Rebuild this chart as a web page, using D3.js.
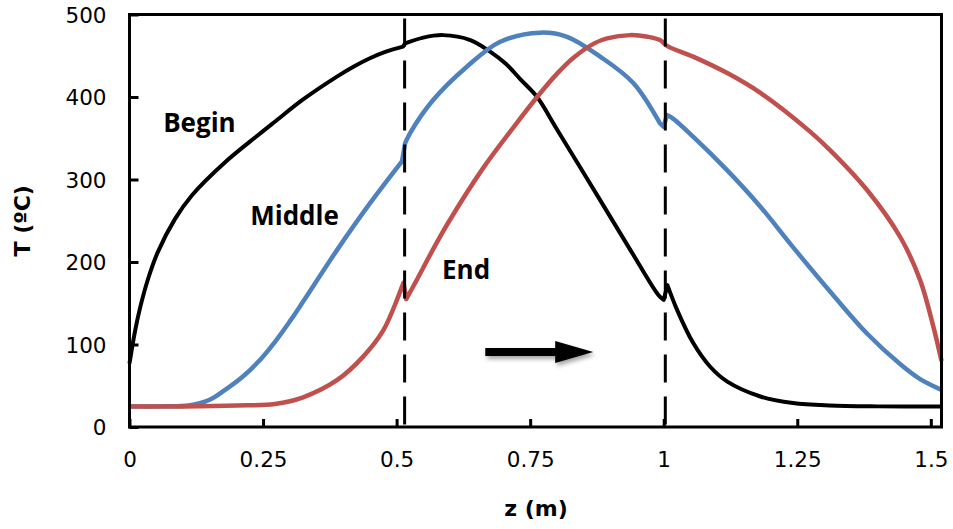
<!DOCTYPE html>
<html>
<head>
<meta charset="utf-8">
<script src="https://cdn.jsdelivr.net/npm/d3@7"></script>
<style>
  body { margin: 0; background: #fff; }
  svg { display: block; }
</style>
</head>
<body>
<div id="vis"></div>
<script>
// temperature profiles along z
var beginZ = [0, 0.01, 0.02, 0.035, 0.053, 0.085, 0.117, 0.179, 0.241, 0.272, 0.325, 0.389, 0.42, 0.45, 0.48, 0.512,
  0.516, 0.55, 0.587, 0.638, 0.675, 0.705, 0.731, 0.763, 0.8, 0.881, 0.94, 0.99, 1.0, 1.007, 1.025, 1.055,
  1.087, 1.119, 1.181, 1.242, 1.31, 1.4, 1.52];
var beginT = [77, 115, 145, 180, 212, 252, 281, 321, 354, 370, 397, 425, 437, 447, 455, 461,
  465, 472, 475, 469, 455, 440, 422, 400, 361, 275, 212, 160, 154, 172, 142, 102,
  73, 55, 37, 29, 26, 25, 25];

var middleZ = [0, 0.06, 0.11, 0.15, 0.179, 0.21, 0.241, 0.272, 0.3, 0.325, 0.389, 0.45, 0.51, 0.516,
  0.525, 0.568, 0.632, 0.694, 0.769, 0.819, 0.881, 0.943, 0.993, 1.0, 1.006, 1.015, 1.055, 1.119,
  1.181, 1.242, 1.317, 1.381, 1.443, 1.48, 1.52];
var middleT = [25, 25, 26, 33, 45, 60, 79, 103, 128, 152, 215, 271, 322, 344,
  356, 396, 437, 467, 478, 473, 449, 417, 368, 364, 378, 375, 352, 311,
  267, 218, 160, 113, 76, 58, 45];

var endZ = [0, 0.1, 0.2, 0.272, 0.325, 0.389, 0.437, 0.475, 0.51, 0.513, 0.518, 0.535, 0.568, 0.596,
  0.66, 0.722, 0.763, 0.8, 0.83, 0.87, 0.894, 0.937, 0.97, 0.993, 1.006, 1.055, 1.119, 1.181, 1.274,
  1.317, 1.381, 1.443, 1.48, 1.505, 1.52];
var endT = [25, 25, 26, 28, 36, 57, 85, 117, 170, 175, 155, 175, 215, 247,
  312, 366, 400, 428, 447, 465, 471, 475, 473, 469, 462, 449, 429, 405, 358,
  332, 287, 230, 178, 121, 80];

var xTicks = [0, 0.25, 0.5, 0.75, 1, 1.25, 1.5];
var xTickLabels = ['0', '0.25', '0.5', '0.75', '1', '1.25', '1.5'];
var yTicks = [0, 100, 200, 300, 400, 500];

// section boundaries (dashed lines)
var boundaries = [0.515, 1.003];

var series = [
  { name: 'Begin', z: beginZ, t: beginT, color: '#000000', width: 4 },
  { name: 'Middle', z: middleZ, t: middleT, color: '#4F81BD', width: 4.5 },
  { name: 'End', z: endZ, t: endT, color: '#C0504D', width: 4.5 }
];

// curve labels, in data coordinates
var labels = [
  { text: 'Begin', z: 0.063, t: 357 },
  { text: 'Middle', z: 0.226, t: 245 },
  { text: 'End', z: 0.585, t: 180 }
];

// direction arrow, in data coordinates
var arrowZ = [0.666, 0.868];
var arrowT = 91;

var width = 953;
var height = 529;

var x = d3.scaleLinear().domain([0, 1.52]).range([129.5, 941.5]);
var y = d3.scaleLinear().domain([0, 500]).range([427, 14.5]);

var svg = d3.select('#vis').append('svg')
  .attr('width', width)
  .attr('height', height);

var defs = svg.append('defs');
var shadow = defs.append('filter').attr('id', 'shadow')
  .attr('x', '-20%').attr('y', '-50%').attr('width', '150%').attr('height', '250%');
shadow.append('feDropShadow')
  .attr('dx', 2).attr('dy', 3).attr('stdDeviation', 2)
  .attr('flood-color', '#000').attr('flood-opacity', 0.35);

// curves: smooth pieces, joined by straight jumps at the boundaries
var line = d3.line()
  .x(function (d) { return x(d[0]); })
  .y(function (d) { return y(d[1]); })
  .curve(d3.curveCatmullRom.alpha(0.5));

function seriesPath(s) {
  var pieces = [[]];
  s.z.forEach(function (z, i) {
    if (i > 0 && z - s.z[i - 1] < 0.008) pieces.push([]);
    pieces[pieces.length - 1].push([z, s.t[i]]);
  });
  return pieces.map(function (p, k) {
    var d = p.length > 1 ? line(p) : 'M' + x(p[0][0]) + ',' + y(p[0][1]);
    return k === 0 ? d : 'L' + d.slice(1);
  }).join('');
}

svg.append('g').selectAll('path')
  .data(series)
  .enter().append('path')
  .attr('d', seriesPath)
  .attr('fill', 'none')
  .attr('stroke', function (s) { return s.color; })
  .attr('stroke-width', function (s) { return s.width; })
  .attr('stroke-linejoin', 'round');

// dashed boundaries
svg.append('g').selectAll('line')
  .data(boundaries)
  .enter().append('line')
  .attr('x1', function (d) { return x(d); })
  .attr('x2', function (d) { return x(d); })
  .attr('y1', y(500))
  .attr('y2', y(0))
  .attr('stroke', '#000')
  .attr('stroke-width', 3)
  .attr('stroke-dasharray', '28,14')
  .attr('stroke-dashoffset', 38);

// frame
svg.append('rect')
  .attr('x', x(0))
  .attr('y', y(500))
  .attr('width', x(1.52) - x(0))
  .attr('height', y(0) - y(500))
  .attr('fill', 'none')
  .attr('stroke', '#000')
  .attr('stroke-width', 3);

// axes with inward ticks
var xAxis = d3.axisBottom(x)
  .tickValues(xTicks)
  .tickFormat(function (d, i) { return xTickLabels[i]; })
  .tickSizeInner(-8)
  .tickSizeOuter(0);

var yAxis = d3.axisLeft(y)
  .tickValues(yTicks)
  .tickSizeInner(-9)
  .tickSizeOuter(0)
  .tickPadding(23);

var gx = svg.append('g')
  .attr('transform', 'translate(0,' + y(0) + ')')
  .call(xAxis);
var gy = svg.append('g')
  .attr('transform', 'translate(' + x(0) + ',0)')
  .call(yAxis);

[gx, gy].forEach(function (g) {
  g.select('.domain').remove();
  g.selectAll('.tick line').attr('stroke', '#000').attr('stroke-width', 3);
  g.selectAll('.tick text')
    .attr('fill', '#000')
    .style('font-family', '"DejaVu Sans", sans-serif')
    .style('font-size', '21.5px');
});
gx.selectAll('.tick text').attr('dy', 0).attr('y', 40);
gy.selectAll('.tick text').attr('dy', '0.36em');

// axis titles
svg.append('text')
  .attr('x', 536)
  .attr('y', 516)
  .attr('text-anchor', 'middle')
  .style('font-family', '"DejaVu Sans", sans-serif')
  .style('font-weight', 'bold')
  .style('font-size', '22px')
  .text('z (m)');

svg.append('text')
  .attr('transform', 'translate(30,' + y(250) + ') rotate(-90)')
  .attr('text-anchor', 'middle')
  .style('font-family', '"DejaVu Sans", sans-serif')
  .style('font-weight', 'bold')
  .style('font-size', '22px')
  .text('T (ºC)');

// curve labels
svg.append('g').selectAll('text')
  .data(labels)
  .enter().append('text')
  .attr('x', function (d) { return x(d.z); })
  .attr('y', function (d) { return y(d.t); })
  .style('font-family', '"Open Sans", sans-serif')
  .style('font-weight', 'bold')
  .style('font-size', '26px')
  .text(function (d) { return d.text; });

// arrow
var ax0 = x(arrowZ[0]);
var ax1 = x(arrowZ[1]);
var ay = y(arrowT);
var arrowPath = d3.path();
arrowPath.moveTo(ax0, ay - 4);
arrowPath.lineTo(ax1 - 38, ay - 4);
arrowPath.lineTo(ax1 - 38, ay - 11);
arrowPath.lineTo(ax1, ay);
arrowPath.lineTo(ax1 - 38, ay + 11);
arrowPath.lineTo(ax1 - 38, ay + 4);
arrowPath.lineTo(ax0, ay + 4);
arrowPath.closePath();
svg.append('path')
  .attr('d', arrowPath.toString())
  .attr('fill', '#000')
  .attr('filter', 'url(#shadow)');
</script>
</body>
</html>
